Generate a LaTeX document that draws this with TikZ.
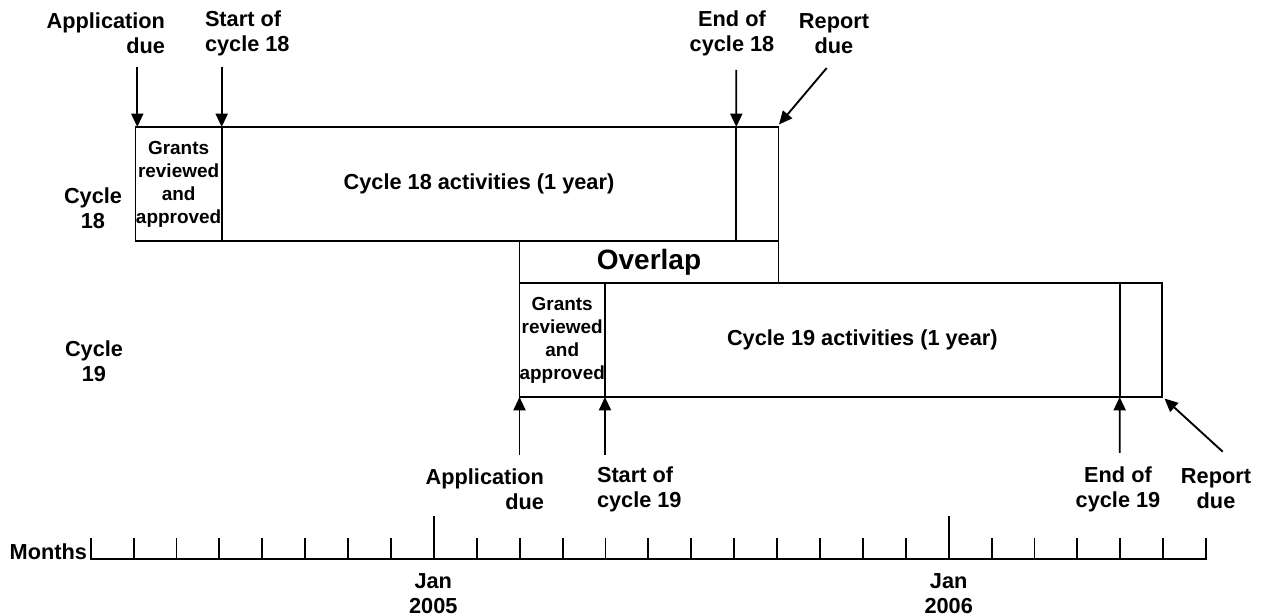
\documentclass[tikz,border=0pt]{standalone}
\usepackage{fontspec}
\setmainfont{Liberation Sans}
\usetikzlibrary{arrows.meta,calc}
\tikzset{
  lbl/.style={font=\fontsize{16.3}{18.8}\selectfont\bfseries, inner sep=0pt, outer sep=0pt},
  cell/.style={draw, line width=1.4pt, inner sep=0pt, outer sep=0pt, anchor=north west,
    font=\fontsize{16.3}{18.8}\selectfont\bfseries, align=center},
  grantcell/.style={cell, font=\fontsize{14.2}{17.2}\selectfont\bfseries},
  ovcell/.style={cell, font=\fontsize{21}{24}\selectfont\bfseries},
  arr/.style={line width=1.4pt, -{Triangle[width=9pt,length=10pt]}},
  axis/.style={line width=1.4pt, line join=miter}
}
\begin{document}
\begin{tikzpicture}[x=0.75pt,y=-0.75pt]
\useasboundingbox (0,0) rectangle (1261,616);
% cycle 18 row
\node[grantcell, minimum width=64.65pt, minimum height=85.5pt] (g18) at (135.5,127) {Grants\\reviewed\\and\\approved};
\node[cell, minimum width=385.95pt, minimum height=85.5pt] (a18) at (221.7,127) {Cycle 18 activities (1 year)};
\node[cell, minimum width=31.65pt, minimum height=85.5pt] (r18) at (736.3,127) {};
% overlap
\node[ovcell, minimum width=194.25pt, minimum height=31.5pt] (ov) at (519.5,241) {Overlap};
% cycle 19 row
\node[grantcell, minimum width=64.1pt, minimum height=85.5pt] (g19) at (519.5,283) {Grants\\reviewed\\and\\approved};
\node[cell, minimum width=386pt, minimum height=85.5pt] (a19) at (605,283) {Cycle 19 activities (1 year)};
\node[cell, minimum width=32pt, minimum height=85.5pt] (r19) at (1119.7,283) {};
% row labels
\node[lbl, align=center] (c18) at (93,208.5) {Cycle\\18};
\node[lbl, align=center] (c19) at (94,361) {Cycle\\19};
% top labels
\node[lbl, align=right, anchor=east] (appd18) at (165,33.5) {Application\\due};
\node[lbl, align=left, anchor=west] (start18) at (205,33.5) {Start of\\cycle 18};
\node[lbl, align=center] (end18) at (732,33.5) {End of\\cycle 18};
\node[lbl, align=center] (rep18) at (834,33.5) {Report\\due};
% bottom labels
\node[lbl, align=right, anchor=east] (appd19) at (544,489) {Application\\due};
\node[lbl, align=left, anchor=west] (start19) at (597,489) {Start of\\cycle 19};
\node[lbl, align=center] (end19) at (1118,489) {End of\\cycle 19};
\node[lbl, align=center] (rep19) at (1216,489) {Report\\due};
% top arrows
\coordinate (ta1) at (137.3,67);
\coordinate (tb1) at (137.3,127);
\coordinate (ta2) at (221.7,67);
\coordinate (ta3) at (736.3,70);
\coordinate (ta4) at (826.7,68);
\coordinate (tb4) at (779,124.5);
\draw[arr] (ta1) -- (tb1);
\draw[arr] (ta2) -- (g18.north east);
\draw[arr] (ta3) -- (a18.north east);
\draw[arr] (ta4) -- (tb4);
% bottom arrows
\coordinate (ba1) at (519.5,455);
\coordinate (ba2) at (605,455);
\coordinate (ba3) at (1119.7,453);
\coordinate (ba4) at (1222.7,451.7);
\coordinate (bb4) at (1164.5,398.5);
\draw[arr] (ba1) -- (g19.south west);
\draw[arr] (ba2) -- (g19.south east);
\draw[arr] (ba3) -- (a19.south east);
\draw[arr] (ba4) -- (bb4);
% timeline
\node[lbl, anchor=east] (months) at (87,551.5) {Months};
\foreach \i in {0,...,26} {
  \coordinate (tk\i) at ({90.7+42.9*\i},559);
}
\draw[axis] ($(tk0)+(0,-21)$) -- (tk0) -- (tk26) -- ($(tk26)+(0,-21)$);
\foreach \i in {1,...,25} {
  \ifnum\i=8 \draw[axis] (tk\i) -- ++(0,-43);
  \else\ifnum\i=20 \draw[axis] (tk\i) -- ++(0,-43);
  \else \draw[axis] (tk\i) -- ++(0,-21);
  \fi\fi
}
\node[lbl, align=center] (jan05) at (433.3,594) {Jan\\2005};
\node[lbl, align=center] (jan06) at (948.7,594) {Jan\\2006};
\end{tikzpicture}
\end{document}
